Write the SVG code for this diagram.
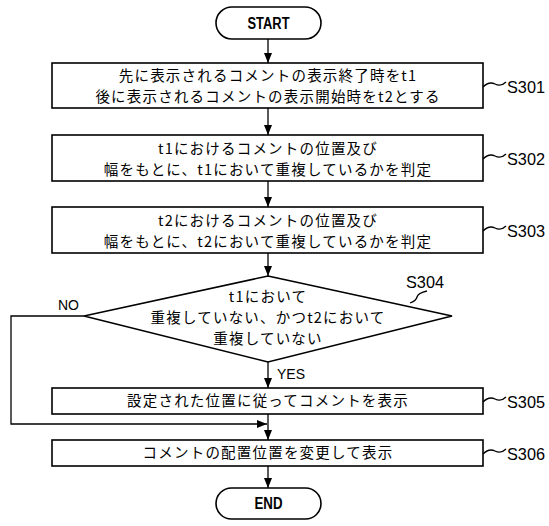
<svg xmlns="http://www.w3.org/2000/svg" width="549" height="526" viewBox="0 0 549 526">
<style>
.box{fill:#fff;stroke:#000;stroke-width:1.6}
.ln{fill:none;stroke:#000;stroke-width:1.3}
.jp{font-family:"Noto Sans CJK JP","Noto Sans",sans-serif;font-size:14.5px;letter-spacing:1.2px;fill:#000;text-anchor:middle}
.lb{font-family:"Liberation Sans",Arial,sans-serif;font-size:17px;fill:#000}
.tm{font-family:"Liberation Sans",Arial,sans-serif;font-size:16px;font-weight:bold;fill:#000;text-anchor:middle}
.yn{font-family:"Liberation Sans",Arial,sans-serif;font-size:14px;fill:#000}
</style>
<defs>
<marker id="ah" viewBox="0 0 10 8" refX="10" refY="4" markerWidth="10" markerHeight="8" markerUnits="userSpaceOnUse" orient="auto">
<path d="M0,0 L10,4 L0,8 Z" fill="#000"/>
</marker>
</defs>
<g id="connectors">
<line class="ln" x1="268" y1="39" x2="268" y2="63" marker-end="url(#ah)"/>
<line class="ln" x1="268" y1="108" x2="268" y2="135" marker-end="url(#ah)"/>
<line class="ln" x1="268" y1="181" x2="268" y2="207" marker-end="url(#ah)"/>
<line class="ln" x1="268" y1="253" x2="268" y2="276" marker-end="url(#ah)"/>
<line class="ln" x1="268" y1="362" x2="268" y2="388" marker-end="url(#ah)"/>
<line class="ln" x1="268" y1="414" x2="268" y2="440" marker-end="url(#ah)"/>
<polyline class="ln" points="84,316 11,316 11,424 267,424" marker-end="url(#ah)"/>
<line class="ln" x1="268" y1="466" x2="268" y2="488" marker-end="url(#ah)"/>
<text class="yn" x="58" y="310">NO</text>
<text class="yn" x="277" y="379">YES</text>
</g>
<g id="start">
<rect class="box" x="216" y="7" width="105" height="32" rx="16"/>
<text class="tm" x="268.5" y="29" textLength="42" lengthAdjust="spacingAndGlyphs">START</text>
</g>
<g id="s301">
<rect class="box" x="52" y="63" width="431" height="45"/>
<text class="jp" x="268" y="81">先に表示されるコメントの表示終了時をt1</text>
<text class="jp" x="268" y="102">後に表示されるコメントの表示開始時をt2とする</text>
<path class="ln" d="M483,87 q6,-6 12,-3 t11,-2"/>
<text class="lb" x="507" y="93" textLength="38" lengthAdjust="spacingAndGlyphs">S301</text>
</g>
<g id="s302">
<rect class="box" x="52" y="135" width="431" height="46"/>
<text class="jp" x="268" y="154">t1におけるコメントの位置及び</text>
<text class="jp" x="268" y="175">幅をもとに、t1において重複しているかを判定</text>
<path class="ln" d="M483,159 q6,-6 12,-3 t11,-2"/>
<text class="lb" x="507" y="165" textLength="38" lengthAdjust="spacingAndGlyphs">S302</text>
</g>
<g id="s303">
<rect class="box" x="52" y="207" width="431" height="46"/>
<text class="jp" x="268" y="226">t2におけるコメントの位置及び</text>
<text class="jp" x="268" y="247">幅をもとに、t2において重複しているかを判定</text>
<path class="ln" d="M483,231 q6,-6 12,-3 t11,-2"/>
<text class="lb" x="507" y="237" textLength="38" lengthAdjust="spacingAndGlyphs">S303</text>
</g>
<g id="s304">
<polygon class="box" points="268,276 452,316 268,362 84,316"/>
<text class="jp" x="268" y="302">t1において</text>
<text class="jp" x="268" y="323">重複していない、かつt2において</text>
<text class="jp" x="268" y="344">重複していない</text>
<path class="ln" d="M410,303 q6,-2 7,-6 t10,-6"/>
<text class="lb" x="406" y="288" textLength="38" lengthAdjust="spacingAndGlyphs">S304</text>
</g>
<g id="s305">
<rect class="box" x="52" y="388" width="431" height="26"/>
<text class="jp" x="268" y="406">設定された位置に従ってコメントを表示</text>
<path class="ln" d="M483,402 q6,-6 12,-3 t11,-2"/>
<text class="lb" x="507" y="408" textLength="38" lengthAdjust="spacingAndGlyphs">S305</text>
</g>
<g id="s306">
<rect class="box" x="52" y="440" width="431" height="26"/>
<text class="jp" x="268" y="458">コメントの配置位置を変更して表示</text>
<path class="ln" d="M483,454 q6,-6 12,-3 t11,-2"/>
<text class="lb" x="507" y="460" textLength="38" lengthAdjust="spacingAndGlyphs">S306</text>
</g>
<g id="end">
<rect class="box" x="216" y="488" width="105" height="31" rx="15.5"/>
<text class="tm" x="268.5" y="509" textLength="28" lengthAdjust="spacingAndGlyphs">END</text>
</g>
</svg>
